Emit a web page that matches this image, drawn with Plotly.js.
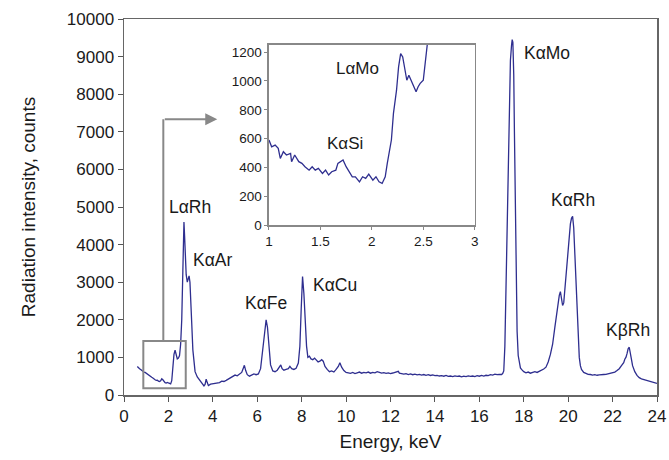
<!DOCTYPE html>
<html>
<head>
<meta charset="utf-8">
<script src="https://cdn.plot.ly/plotly-3.0.1.min.js"></script>
<style>html,body{margin:0;padding:0;background:#fff;}#chart{width:669px;height:460px;}</style>
</head>
<body>
<div id="chart"></div>
<script>
// Main spectrum (keV, counts)
const energy = [
0.60,0.65,0.70,0.75,0.80,0.85,0.90,0.95,1.00,1.05,1.10,1.15,1.20,1.25,1.30,1.35,1.40,1.45,1.50,1.55,1.60,1.65,1.70,1.75,1.80,1.85,1.90,1.95,2.00,2.05,2.10,2.15,2.20,2.25,2.30,2.35,2.40,2.45,2.50,2.55,2.60,2.65,2.68,2.70,2.73,2.76,2.80,2.85,2.90,2.93,2.97,3.00,3.05,3.10,3.15,3.20,3.30,3.40,3.50,3.60,3.65,3.70,3.75,3.80,3.90,4.00,4.10,4.20,4.30,4.40,4.50,4.60,4.70,4.80,4.90,5.00,5.10,5.20,5.30,5.35,5.42,5.48,5.55,5.65,5.75,5.85,5.95,6.05,6.15,6.25,6.32,6.40,6.46,6.52,6.60,6.70,6.80,6.90,7.00,7.06,7.12,7.20,7.30,7.40,7.47,7.55,7.65,7.75,7.85,7.92,7.98,8.04,8.10,8.16,8.22,8.28,8.35,8.42,8.50,8.58,8.66,8.74,8.82,8.90,8.97,9.05,9.15,9.25,9.35,9.45,9.55,9.65,9.72,9.80,9.90,10.0,10.1,10.2,10.3,10.4,10.5,10.6,10.7,10.8,10.9,11.0,11.1,11.2,11.3,11.4,11.5,11.6,11.7,11.8,11.9,12.0,12.1,12.2,12.3,12.35,12.4,12.5,12.6,12.7,12.8,12.9,13.0,13.1,13.2,13.3,13.4,13.5,13.6,13.7,13.8,13.9,14.0,14.1,14.2,14.3,14.4,14.5,14.6,14.7,14.8,14.9,15.0,15.1,15.2,15.3,15.4,15.5,15.6,15.7,15.8,15.9,16.0,16.1,16.2,16.3,16.4,16.5,16.6,16.7,16.8,16.9,17.0,17.05,17.10,17.15,17.20,17.25,17.30,17.35,17.40,17.45,17.48,17.51,17.55,17.58,17.62,17.66,17.70,17.75,17.80,17.85,17.90,18.0,18.1,18.2,18.3,18.4,18.5,18.6,18.7,18.8,18.9,19.0,19.1,19.2,19.3,19.4,19.5,19.6,19.65,19.7,19.75,19.8,19.85,19.9,20.0,20.05,20.1,20.15,20.2,20.25,20.3,20.35,20.4,20.45,20.5,20.55,20.6,20.7,20.8,20.9,21.0,21.1,21.2,21.3,21.4,21.5,21.6,21.7,21.8,21.9,22.0,22.1,22.2,22.3,22.4,22.5,22.55,22.6,22.65,22.7,22.75,22.8,22.85,22.9,23.0,23.1,23.2,23.3,23.4,23.5,23.6,23.7,23.8,23.9,24.0
];
const counts = [
760,720,700,680,650,640,610,600,575,545,520,505,495,470,450,420,405,390,395,370,360,380,430,405,350,330,320,335,320,310,295,380,760,1080,1190,1060,960,980,1050,1350,2000,3300,4300,4600,4200,3700,3200,3000,3150,3170,3000,2700,1900,1200,800,620,480,400,330,240,280,420,330,250,290,300,320,340,330,370,360,390,430,470,490,530,510,560,600,680,790,650,540,500,520,560,540,560,700,1200,1700,2000,1800,1300,800,640,620,660,760,800,700,660,680,700,760,700,680,710,850,1300,2300,3150,2700,1900,1300,1000,1030,960,940,980,930,880,900,940,900,760,680,620,640,610,680,760,860,740,650,600,590,575,600,570,590,610,580,600,590,610,580,600,590,620,600,580,595,575,590,570,585,600,615,630,580,560,555,570,545,560,540,555,535,550,530,545,525,540,520,535,515,520,505,515,500,520,495,505,490,510,495,505,485,500,490,510,495,505,490,515,500,520,505,525,515,540,530,555,540,550,545,570,640,1300,2800,4800,6600,8000,8900,9300,9450,9380,8500,7000,4800,2900,1700,1050,820,720,680,620,590,610,580,600,620,600,630,650,690,740,880,1080,1350,1800,2250,2650,2750,2550,2380,2450,2800,3200,3850,4300,4550,4700,4750,4450,3800,3000,2200,1500,1000,780,680,600,570,550,545,530,540,525,535,530,545,550,560,570,590,610,650,700,780,860,950,1000,1100,1230,1270,1150,950,780,620,520,460,430,410,400,370,350,330,320,310
];
// Inset (zoomed low-energy region)
const insetEnergy = [1.00,1.026,1.06,1.09,1.11,1.14,1.17,1.21,1.22,1.25,1.29,1.32,1.35,1.39,1.42,1.45,1.48,1.52,1.55,1.58,1.61,1.65,1.67,1.70,1.72,1.75,1.78,1.81,1.84,1.88,1.91,1.94,1.97,2.01,2.04,2.07,2.10,2.13,2.15,2.19,2.21,2.24,2.26,2.28,2.30,2.32,2.34,2.36,2.38,2.41,2.43,2.45,2.47,2.50,2.52,2.54,2.57,2.60];
const insetCounts = [590,543,555,532,462,509,486,497,439,486,440,428,405,381,405,381,393,358,381,347,370,381,428,440,451,405,370,335,335,300,335,324,354,312,335,300,289,335,428,590,775,936,1098,1190,1167,1098,1005,1040,1005,960,925,960,983,1005,1120,1260,1600,2000];
// Peak labels
const peakLabels = ["L\u03b1Rh","K\u03b1Ar","K\u03b1Fe","K\u03b1Cu","K\u03b1Mo","K\u03b1Rh","K\u03b2Rh"];
const peakLabelX = [2.97,4.0,6.4,9.5,19.05,20.2,22.7];
const peakLabelY = [5000,3590,2450,2930,9100,5190,1730];
const insetLabels = ["L\u03b1Mo","K\u03b1Si"];
const insetLabelX = [1.86,1.735];
const insetLabelY = [1089,569];
const xTicks = [0,2,4,6,8,10,12,14,16,18,20,22,24];
const yTicks = [0,1000,2000,3000,4000,5000,6000,7000,8000,9000,10000];
const yTickText = ["0","1000","2000","3000","4000","5000","6000","7000","8000","9000","10000"];
const insetXTicks = [1,1.5,2,2.5,3];
const insetXTickText = ["1","1.5","2","2.5","3"];
const insetYTicks = [0,200,400,600,800,1000,1200];

const lineColor = '#2e2e8f';
const font = {family:'"Liberation Sans", Arial, sans-serif', color:'#1a1a1a'};

const traces = [
  {x:energy, y:counts, type:'scatter', mode:'lines', line:{color:lineColor, width:1.3}, xaxis:'x', yaxis:'y', hoverinfo:'skip'},
  {x:insetEnergy, y:insetCounts, type:'scatter', mode:'lines', line:{color:lineColor, width:1.3}, xaxis:'x2', yaxis:'y2', hoverinfo:'skip'}
];

const annotations = [];
peakLabels.forEach((t,i)=>annotations.push({x:peakLabelX[i], y:peakLabelY[i], xref:'x', yref:'y', text:t, showarrow:false, font:{size:17.5, color:'#1a1a1a', family:font.family}}));
insetLabels.forEach((t,i)=>annotations.push({x:insetLabelX[i], y:insetLabelY[i], xref:'x2', yref:'y2', text:t, showarrow:false, font:{size:17, color:'#1a1a1a', family:font.family}}));
// arrow head from the zoom box to the inset
annotations.push({x:4.2, y:7334, ax:1.77, ay:7334, xref:'x', yref:'y', axref:'x', ayref:'y', text:'', showarrow:true, arrowhead:2, arrowsize:1.2, arrowwidth:2, arrowcolor:'#888'});

const shapes = [
  {type:'rect', xref:'x', yref:'y', x0:0.87, x1:2.78, y0:178, y1:1436, line:{color:'#888', width:2}},
  {type:'line', xref:'x', yref:'y', x0:1.77, x1:1.77, y0:1436, y1:7334, line:{color:'#888', width:2}}
];

const layout = {
  width:669, height:460,
  margin:{l:124, r:12, t:19, b:65},
  paper_bgcolor:'#fff', plot_bgcolor:'#fff',
  showlegend:false,
  font:font,
  xaxis:{domain:[0,1], range:[0,24], tickvals:xTicks, ticktext:xTicks.map(String), ticks:'outside', ticklen:5, tickcolor:'#555', showline:true, linecolor:'#666', linewidth:1.5, mirror:true, showgrid:false, zeroline:false, tickfont:{size:17},
         title:{text:'Energy, keV', font:{size:19}, standoff:10}},
  yaxis:{domain:[0,1], range:[0,10000], tickvals:yTicks, ticktext:yTickText, ticks:'outside', ticklen:5, tickcolor:'#555', showline:true, linecolor:'#666', linewidth:1.5, mirror:true, showgrid:false, zeroline:false, tickfont:{size:17},
         title:{text:'Radiation intensity, counts', font:{size:19}, standoff:26}},
  xaxis2:{domain:[0.272,0.658], anchor:'y2', range:[1,3], tickvals:insetXTicks, ticktext:insetXTickText, ticks:'outside', ticklen:3, tickcolor:'#888', showline:true, linecolor:'#888', linewidth:1.5, mirror:true, showgrid:false, zeroline:false, tickfont:{size:13.5}},
  yaxis2:{domain:[0.452,0.931], anchor:'x2', range:[0,1250], tickvals:insetYTicks, ticktext:insetYTicks.map(String), ticks:'outside', ticklen:3, tickcolor:'#888', showline:true, linecolor:'#888', linewidth:1.5, mirror:true, showgrid:false, zeroline:false, tickfont:{size:13.5}},
  annotations:annotations,
  shapes:shapes
};

Plotly.newPlot('chart', traces, layout, {staticPlot:true, displayModeBar:false});
</script>
</body>
</html>
